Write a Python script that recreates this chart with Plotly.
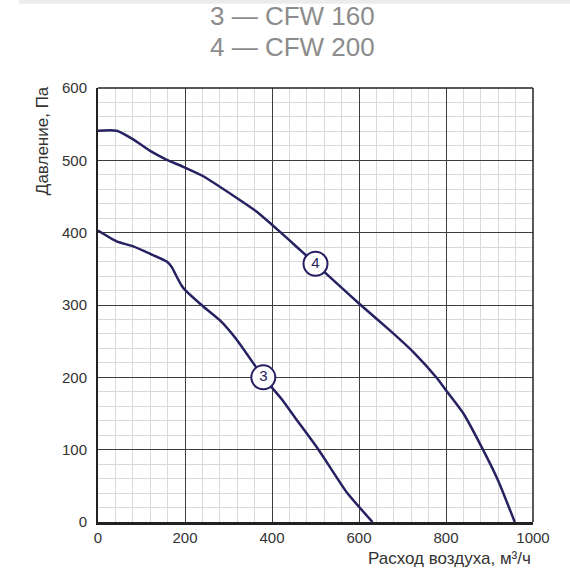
import plotly.graph_objects as go

# ---- data ----
flow_cfw200 = [0, 43, 81, 120, 157, 196, 242, 319, 365, 400, 441, 472, 500, 556, 600, 671, 725, 779, 800, 840, 885, 920, 958]
pres_cfw200 = [541, 541, 529, 513, 501, 491, 478, 448, 429, 411, 389, 372, 357, 326, 302, 265, 235, 199, 182, 150, 100, 57, 0]

flow_cfw160 = [0, 43, 81, 119, 158, 170, 181, 192, 200, 242, 280, 319, 380, 422, 457, 507, 573, 631]
pres_cfw160 = [403, 388, 381, 371, 360, 352, 339, 327, 321, 298, 279, 252, 200, 170, 141, 100, 40, 0]

label_names = ["3", "4"]
label_flow = [380, 500]
label_pres = [200, 357]

legend_lines = ["3 — CFW 160", "4 — CFW 200"]
x_ticks = [0, 200, 400, 600, 800, 1000]
y_ticks = [0, 100, 200, 300, 400, 500, 600]

NAVY = "#262262"
FONT = "Liberation Sans, Arial, sans-serif"

fig = go.Figure()
for xs, ys in [(flow_cfw160, pres_cfw160), (flow_cfw200, pres_cfw200)]:
    fig.add_trace(go.Scatter(x=xs, y=ys, mode="lines",
                             line=dict(color=NAVY, width=2.5, shape="spline", smoothing=0.5),
                             hoverinfo="skip", showlegend=False))

fig.add_trace(go.Scatter(x=label_flow, y=label_pres, mode="markers+text",
                         text=label_names, textposition="middle center",
                         textfont=dict(family=FONT, size=15, color=NAVY),
                         marker=dict(size=24, color="white", line=dict(color=NAVY, width=2)),
                         hoverinfo="skip", showlegend=False, cliponaxis=False))

fig.update_layout(
    width=570, height=570,
    margin=dict(l=98, r=37, t=88, b=48, autoexpand=False),
    paper_bgcolor="white", plot_bgcolor="white",
    font=dict(family=FONT, color="#333333", size=14),
    xaxis=dict(range=[0, 1000], tickvals=x_ticks, showgrid=True, gridcolor="#3c3c3c", gridwidth=1,
               minor=dict(dtick=40, showgrid=True, gridcolor="#d9d9d9", gridwidth=1),
               zeroline=False, showline=True, linecolor="#222222", linewidth=2.5,
               ticks="", ticklabelstandoff=0, tickfont=dict(size=15, color="#333333"), fixedrange=True),
    yaxis=dict(range=[0, 600], tickvals=y_ticks, showgrid=True, gridcolor="#3c3c3c", gridwidth=1,
               minor=dict(dtick=20, showgrid=True, gridcolor="#d9d9d9", gridwidth=1),
               zeroline=False, showline=True, linecolor="#222222", linewidth=2,
               ticks="", ticklabelstandoff=6, tickfont=dict(size=15, color="#333333"), fixedrange=True),
)

# top and right frame lines
fig.add_shape(type="line", xref="paper", yref="paper", x0=0, x1=1, y0=1, y1=1,
              line=dict(color="#222222", width=1.5))
fig.add_shape(type="line", xref="paper", yref="paper", x0=1, x1=1, y0=0, y1=1,
              line=dict(color="#222222", width=1.5))
# faint strip at very top of page
fig.add_shape(type="rect", xref="paper", yref="paper", x0=-0.182, x1=1.09, y0=1.194, y1=1.203,
              line=dict(width=0), fillcolor="#ececec")

# legend lines at top
for i, txt in enumerate(legend_lines):
    fig.add_annotation(text=txt, xref="paper", yref="paper", x=0.446, y=1.166 - i * 0.072,
                       xanchor="center", yanchor="middle", showarrow=False,
                       font=dict(family=FONT, size=26, color="#8c8c8c"))

# axis titles
fig.add_annotation(text="Давление, Па", xref="paper", yref="paper", x=-0.126, y=0.878,
                   textangle=-90, xanchor="center", yanchor="middle", showarrow=False,
                   font=dict(family=FONT, size=17, color="#333333"))
fig.add_annotation(text="Расход воздуха, м³/ч", xref="paper", yref="paper", x=1.0, y=-0.083,
                   xanchor="right", yanchor="middle", showarrow=False,
                   font=dict(family=FONT, size=17, color="#333333"))

fig.write_html("out.html", config={"displayModeBar": False, "staticPlot": True},
               post_script="document.body.style.margin='0';")
